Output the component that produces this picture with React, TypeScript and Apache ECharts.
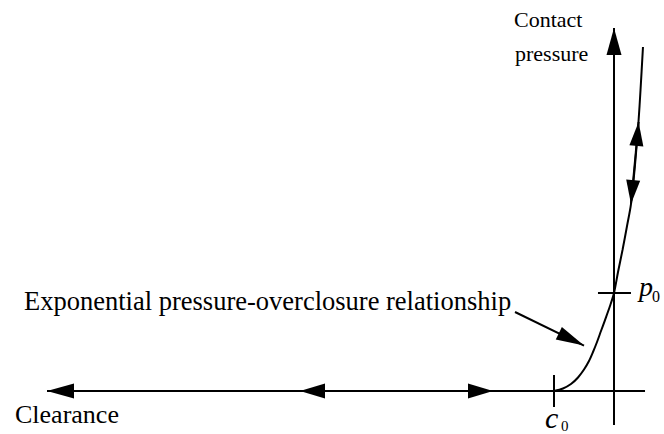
import React, { useEffect, useRef } from "react";
import * as echarts from "echarts";

// Exponential pressure-overclosure curve (x: overclosure in units of c0, y: pressure in units of p0)
const curveOverclosure = [-1, -0.85, -0.717, -0.6, -0.5, -0.417, -0.35, -0.283, -0.217, -0.15, -0.067, 0, 0.067, 0.142, 0.217, 0.283, 0.35, 0.408, 0.442, 0.483];
const curvePressure = [0, 0.026, 0.071, 0.138, 0.219, 0.306, 0.398, 0.5, 0.612, 0.724, 0.867, 1, 1.214, 1.439, 1.684, 1.908, 2.306, 2.745, 3.071, 3.51];

// Axis and annotation segments [fromX, fromY, toX, toY]
const clearanceAxis = [0.517, 0, -9.45, 0];
const clearanceDoubleArrow = [-5.233, 0, -2.017, 0];
const pressureAxis = [0, -0.347, 0, 3.704];
const c0Tick = [-1, -0.163, -1, 0.163];
const p0Tick = [-0.267, 1, 0.283, 1];
const curveDoubleArrow = [0.283, 1.908, 0.41, 2.745];
const leaderArrow = [-1.65, 0.806, -0.5, 0.464];

const FONT = "Liberation Serif";

type Seg = number[];
function seg(s: Seg, symFrom: string, symTo: string, size: number[] = [15, 26]) {
  return [
    { coord: [s[0], s[1]], symbol: symFrom, symbolSize: size, symbolOffset: [0, "50%"] },
    { coord: [s[2], s[3]], symbol: symTo, symbolSize: size, symbolOffset: [0, "50%"] },
  ];
}

export default function App() {
  const ref = useRef<HTMLDivElement>(null);
  useEffect(() => {
    if (!ref.current) return;
    const chart = echarts.init(ref.current, null, { renderer: "svg" });
    const curveData = curveOverclosure.map((x, i) => [x, curvePressure[i]]);
    chart.setOption({
      animation: false,
      backgroundColor: "#ffffff",
      textStyle: { fontFamily: FONT },
      grid: { left: 14, top: 8.8, width: 648, height: 421.4 },
      xAxis: { type: "value", min: -10, max: 0.8, show: false },
      yAxis: { type: "value", min: -0.4, max: 3.9, show: false },
      series: [
        {
          type: "line",
          name: "Exponential pressure-overclosure relationship",
          data: curveData,
          smooth: 0.3,
          showSymbol: false,
          symbol: "none",
          clip: false,
          silent: true,
          lineStyle: { color: "#000", width: 2 },
          markLine: {
            silent: true,
            animation: false,
            label: { show: false },
            emphasis: { disabled: true },
            lineStyle: { color: "#000", width: 2, type: "solid" },
            itemStyle: { color: "#000" },
            data: [
              seg(clearanceAxis, "none", "triangle", [15, 27]),
              seg(clearanceDoubleArrow, "triangle", "triangle", [15, 25]),
              seg(pressureAxis, "none", "triangle", [15, 27]),
              seg(c0Tick, "none", "none"),
              seg(p0Tick, "none", "none"),
              seg(curveDoubleArrow, "triangle", "triangle", [14, 24]),
              seg(leaderArrow, "none", "triangle", [14, 28]),
            ],
          },
        },
      ],
      graphic: [
        { type: "text", left: 514, top: 8, style: { text: "Contact", fontSize: 22, fontFamily: FONT, fill: "#000" } },
        { type: "text", left: 515, top: 42, style: { text: "pressure", fontSize: 22, fontFamily: FONT, fill: "#000" } },
        { type: "text", left: 24, top: 287, style: { text: "Exponential pressure-overclosure relationship", fontSize: 26.5, fontFamily: FONT, fill: "#000" } },
        { type: "text", left: 15, top: 401, style: { text: "Clearance", fontSize: 26, fontFamily: FONT, fill: "#000" } },
        { type: "text", left: 545, top: 402, style: { text: "c", fontSize: 30, fontStyle: "italic", fontFamily: FONT, fill: "#000" } },
        { type: "text", left: 561, top: 418, style: { text: "0", fontSize: 15, fontFamily: FONT, fill: "#000" } },
        { type: "text", left: 639, top: 272, style: { text: "p", fontSize: 28, fontStyle: "italic", fontFamily: FONT, fill: "#000" } },
        { type: "text", left: 652, top: 288, style: { text: "0", fontSize: 16, fontFamily: FONT, fill: "#000" } },
      ],
    });
    return () => chart.dispose();
  }, []);
  return (
    <div
      ref={ref}
      style={{ position: "fixed", left: 0, top: 0, width: 664, height: 434, background: "#fff" }}
    />
  );
}
